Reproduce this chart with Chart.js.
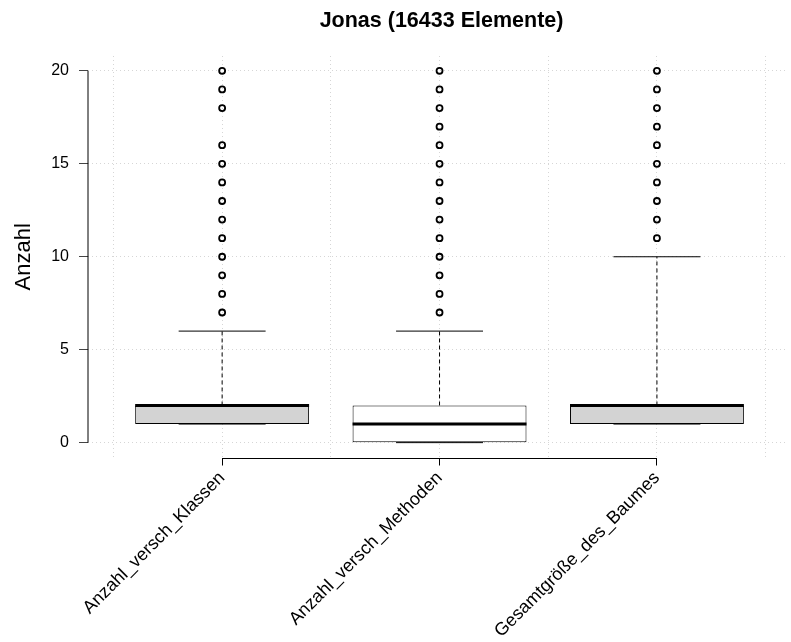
<!DOCTYPE html>
<html>
<head>
<meta charset="utf-8">
<script src="https://cdn.jsdelivr.net/npm/chart.js@4"></script>
<style>
  html, body { margin: 0; padding: 0; background: #fff; overflow: hidden; }
  canvas { display: block; }
</style>
</head>
<body>
<canvas id="chart" width="791" height="642"></canvas>
<script>
// Box plot summary per variable
const categories = ['Anzahl_versch_Klassen', 'Anzahl_versch_Methoden', 'Gesamtgröße_des_Baumes'];
const lowerWhisker = [1, 0, 1];
const q1 = [1, 0, 1];
const median = [2, 1, 2];
const q3 = [2, 2, 2];
const upperWhisker = [6, 6, 10];
const outliers = [
  [7, 8, 9, 10, 11, 12, 13, 14, 15, 16, 18, 19, 20],
  [7, 8, 9, 10, 11, 12, 13, 14, 15, 16, 17, 18, 19, 20],
  [11, 12, 13, 14, 15, 16, 17, 18, 19, 20]
];
const boxFill = ['#d3d3d3', '#ffffff', '#d3d3d3'];
const yTicks = [0, 5, 10, 15, 20];
const xGrid = [0.5, 1, 1.5, 2, 2.5, 3, 3.5];
const chartTitle = 'Jonas (16433 Elemente)';
const yTitle = 'Anzahl';

const FONT = "'Liberation Sans', Arial, Helvetica, sans-serif";
Chart.defaults.font.family = FONT;
Chart.defaults.color = '#000';

const X_MIN = 0.383, X_MAX = 3.59;
const STAPLE_HALF = 0.2;
const MEDIAN_HALF = 0.4;
const GRID_COLOR = '#d6d6d6';

// Build polyline segments per box, separated by gaps
function segments(build) {
  const pts = [];
  categories.forEach((_, i) => {
    build(i + 1, i).forEach(seg => {
      seg.forEach(p => pts.push(p));
      pts.push({ x: seg[seg.length - 1].x, y: null });
    });
  });
  return pts;
}

const whiskerPts = segments((p, i) => [
  [{ x: p, y: q3[i] }, { x: p, y: upperWhisker[i] }],
  [{ x: p, y: lowerWhisker[i] }, { x: p, y: q1[i] }]
]);
const staplePts = segments((p, i) => [
  [{ x: p - STAPLE_HALF, y: upperWhisker[i] }, { x: p + STAPLE_HALF, y: upperWhisker[i] }],
  [{ x: p - STAPLE_HALF, y: lowerWhisker[i] }, { x: p + STAPLE_HALF, y: lowerWhisker[i] }]
]);
const medianPts = segments((p, i) => [
  [{ x: p - MEDIAN_HALF, y: median[i] }, { x: p + MEDIAN_HALF, y: median[i] }]
]);
const outlierPts = [];
outliers.forEach((vals, i) => vals.forEach(v => outlierPts.push({ x: i + 1, y: v })));

const boxPts = categories.map((_, i) => ({ x: i + 1, y: [q1[i], q3[i]] }));

// Axis lines spanning only the tick range, plus the title centred over the boxes
const axisDecor = {
  id: 'axisDecor',
  afterDraw(chart) {
    const { ctx, chartArea, scales: { x, y } } = chart;
    ctx.save();
    ctx.strokeStyle = '#000';
    ctx.lineWidth = 1;
    ctx.beginPath();
    ctx.moveTo(chartArea.left, y.getPixelForValue(yTicks[0]));
    ctx.lineTo(chartArea.left, y.getPixelForValue(yTicks[yTicks.length - 1]));
    const yb = Math.round(chartArea.bottom) + 0.5;
    ctx.moveTo(x.getPixelForValue(1), yb);
    ctx.lineTo(x.getPixelForValue(categories.length), yb);
    ctx.stroke();

    ctx.fillStyle = '#000';
    ctx.font = "bold 21.5px " + FONT;
    ctx.textAlign = 'center';
    ctx.textBaseline = 'alphabetic';
    ctx.fillText(chartTitle, x.getPixelForValue((1 + categories.length) / 2) + 2, 27);
    ctx.restore();
  }
};

const common = { xAxisID: 'x', yAxisID: 'y' };

new Chart(document.getElementById('chart'), {
  type: 'bar',
  data: {
    datasets: [
      Object.assign({
        type: 'bar',
        data: boxPts,
        backgroundColor: boxFill,
        borderColor: '#000',
        borderWidth: 1,
        borderSkipped: false,
        categoryPercentage: 0.8,
        barPercentage: 1,
        order: 5
      }, common),
      Object.assign({
        type: 'line',
        data: whiskerPts,
        borderColor: '#000',
        borderWidth: 1,
        borderDash: [4, 3],
        pointRadius: 0,
        spanGaps: false,
        order: 4
      }, common),
      Object.assign({
        type: 'line',
        data: staplePts,
        borderColor: '#000',
        borderWidth: 1,
        pointRadius: 0,
        spanGaps: false,
        order: 3
      }, common),
      Object.assign({
        type: 'line',
        data: medianPts,
        borderColor: '#000',
        borderWidth: 3,
        borderCapStyle: 'butt',
        pointRadius: 0,
        spanGaps: false,
        order: 2
      }, common),
      Object.assign({
        type: 'scatter',
        data: outlierPts,
        pointStyle: 'circle',
        pointRadius: 3,
        borderColor: '#000',
        borderWidth: 1.8,
        backgroundColor: 'rgba(0,0,0,0)',
        showLine: false,
        order: 1
      }, common)
    ]
  },
  options: {
    responsive: false,
    devicePixelRatio: 1,
    animation: false,
    events: [],
    layout: { padding: { top: 56, left: 0, right: 0, bottom: 0 } },
    plugins: {
      legend: { display: false },
      tooltip: { enabled: false },
      title: { display: false }
    },
    scales: {
      x: {
        type: 'linear',
        position: 'bottom',
        min: X_MIN,
        max: X_MAX,
        offset: false,
        z: 1,
        afterBuildTicks: s => { s.ticks = categories.map((_, i) => ({ value: i + 1 })); },
        afterFit: s => { s.height = 642 - 457.5; },
        grid: {
          offset: false,
          drawOnChartArea: false,
          tickLength: 8,
          tickBorderDash: [],
          tickColor: '#000'
        },
        border: { display: false },
        ticks: {
          autoSkip: false,
          minRotation: 45,
          maxRotation: 45,
          padding: 2,
          color: '#000',
          font: { family: FONT, size: 18 },
          callback: v => categories[v - 1]
        }
      },
      y: {
        type: 'linear',
        min: -0.8,
        max: 20.8,
        z: 1,
        afterBuildTicks: s => { s.ticks = yTicks.map(v => ({ value: v })); },
        afterFit: s => { s.width = 88; },
        grid: {
          color: GRID_COLOR,
          lineWidth: 1,
          tickLength: 9,
          tickBorderDash: [],
          tickColor: '#444'
        },
        border: { display: false, dash: [1, 3] },
        ticks: {
          padding: 10,
          color: '#000',
          font: { family: FONT, size: 16 },
          callback: v => String(v)
        },
        title: {
          display: true,
          text: yTitle,
          color: '#000',
          font: { family: FONT, size: 22 },
          padding: { top: 10.5, bottom: 0 }
        }
      },
      // grid-only axis for the dotted vertical lines
      xg: {
        type: 'linear',
        position: 'top',
        min: X_MIN,
        max: X_MAX,
        offset: false,
        z: 1,
        afterBuildTicks: s => { s.ticks = xGrid.map(v => ({ value: v })); },
        afterFit: s => { s.height = 0; },
        grid: { offset: false, color: GRID_COLOR, lineWidth: 1, drawTicks: false },
        border: { display: false, dash: [1, 3] },
        ticks: { display: false }
      }
    }
  },
  plugins: [axisDecor]
});
</script>
</body>
</html>
